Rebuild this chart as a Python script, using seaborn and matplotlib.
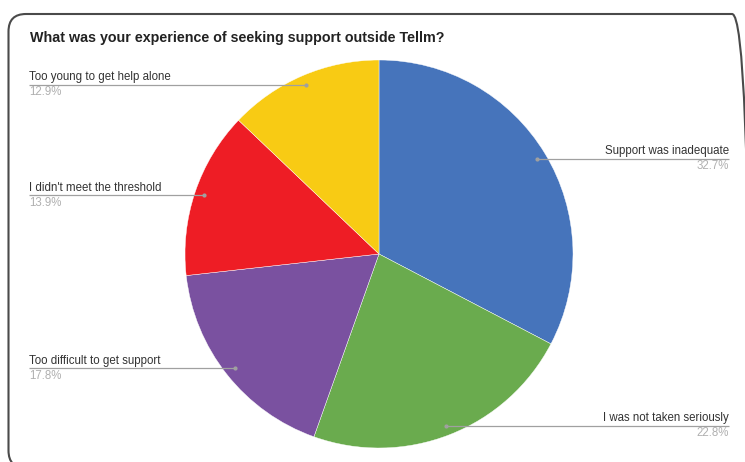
import matplotlib
matplotlib.use('Agg')
import matplotlib.pyplot as plt
from matplotlib.patches import FancyBboxPatch
import seaborn as sns
import numpy as np

# data, in drawing order (clockwise from 12 o'clock)
labels = ['Support was inadequate', 'I was not taken seriously',
          'Too difficult to get support', "I didn't meet the threshold",
          'Too young to get help alone']
shares = [32.7, 22.8, 17.8, 13.9, 12.9]
colors = ['#4674BB', '#6AAB4E', '#7A51A0', '#EE1D25', '#F8CB14']
title = 'What was your experience of seeking support outside Tellm?'

sns.set_theme(style='white')
plt.rcParams['font.family'] = ['Liberation Sans', 'DejaVu Sans']

W, H = 745, 462
CX, CY, R = 379, 254, 194  # pie centre / radius in pixels


def px(x, y):
    # pixel position -> data coords (1 unit = pie radius)
    return (x - CX) / R, (CY - y) / R


fig = plt.figure(figsize=(W / 100, H / 100), dpi=100)
ax = fig.add_axes([0, 0, 1, 1])

ax.pie(shares, colors=colors, startangle=90, counterclock=False, radius=1,
       center=(0, 0), wedgeprops=dict(edgecolor='white', linewidth=0.3))

# pie() resets the limits, so set them afterwards
ax.set_aspect('auto')
ax.set_xlim(px(0, 0)[0], px(W, 0)[0])
ax.set_ylim(px(0, H)[1], px(0, 0)[1])
ax.axis('off')

# frame with rounded corners
x0, y0 = px(8.5, 468)
x1, y1 = px(749.5, 14)
frame = FancyBboxPatch((x0, y0), x1 - x0, y1 - y0,
                       boxstyle='round,pad=0,rounding_size=0.09',
                       fill=False, edgecolor='#4a4a4a', linewidth=1.5,
                       clip_on=False)
ax.add_patch(frame)

tx, ty = px(30, 38)
ax.text(tx, ty, title, fontsize=10.3, fontweight='bold', color='#222222',
        ha='left', va='center')

# leader lines and labels
left_x = px(29, 0)[0]
right_x = px(729, 0)[0]
total = sum(shares)
cum = 0
for lab, val in zip(labels, shares):
    mid = (cum + val / 2) / total * 2 * np.pi
    cum += val
    dx, dy = 0.95 * np.sin(mid), 0.95 * np.cos(mid)
    if dx > 0:
        end, ha = right_x, 'right'
    else:
        end, ha = left_x, 'left'
    ax.plot([dx, end], [dy, dy], color='#a0a0a0', linewidth=0.9,
            solid_capstyle='butt')
    ax.plot(dx, dy, 'o', color='#a0a0a0', markersize=2)
    ax.text(end, dy + 0.008, lab, fontsize=8.3, color='#333333',
            ha=ha, va='bottom')
    ax.text(end, dy - 0.008, f'{val}%', fontsize=8.3, color='#b0b0b0',
            ha=ha, va='top')

fig.savefig('out.png', dpi=100, facecolor='white')
